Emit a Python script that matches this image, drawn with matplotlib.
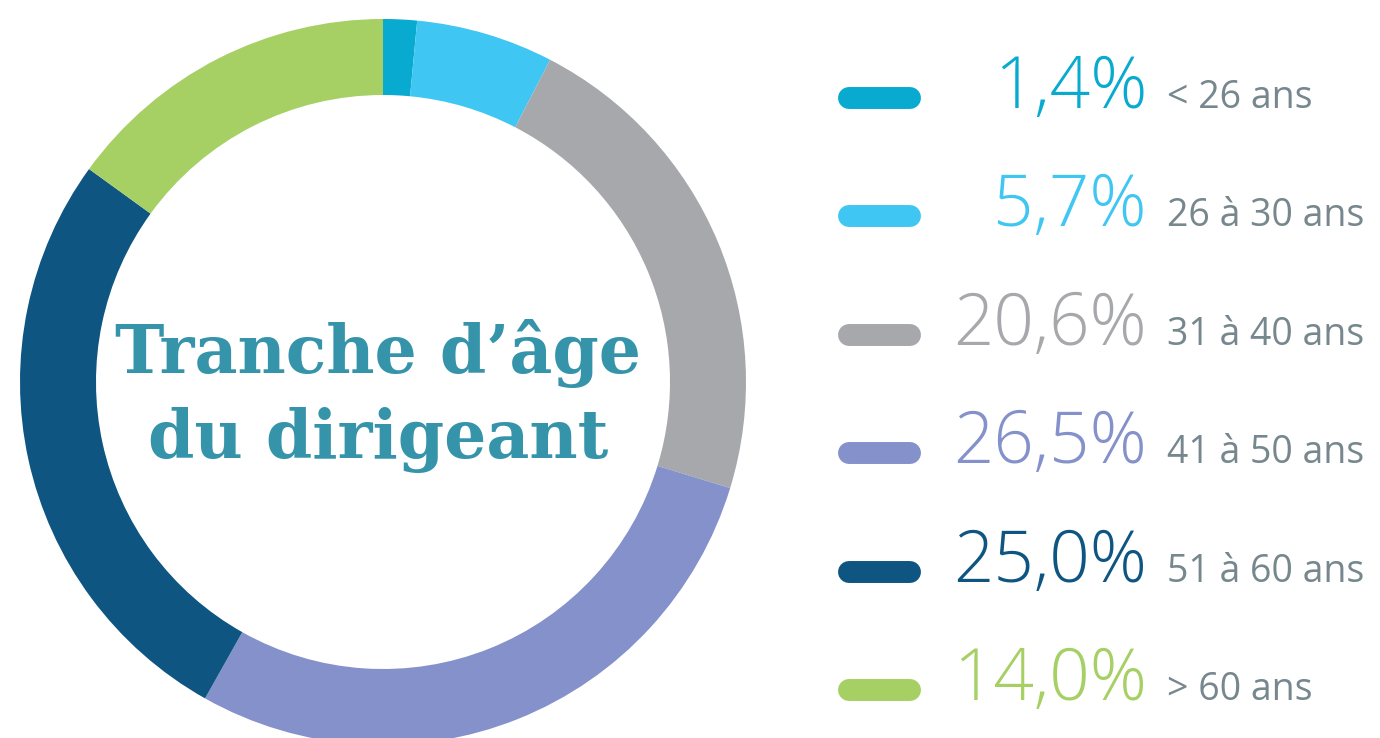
import matplotlib
matplotlib.use("Agg")
import matplotlib.pyplot as plt

categories = ["< 26 ans", "26 à 30 ans", "31 à 40 ans", "41 à 50 ans", "51 à 60 ans", "> 60 ans"]
values = [1.4, 5.7, 20.6, 26.5, 25.0, 14.0]
pct_labels = ["1,4%", "5,7%", "20,6%", "26,5%", "25,0%", "14,0%"]
colors = ["#08aad0", "#40c6f2", "#a7a8ab", "#8491ca", "#0e5582", "#a6cf64"]
title_lines = ["Tranche d\u2019âge", "du dirigeant"]

W, H = 1380, 738
fig = plt.figure(figsize=(W / 100, H / 100), dpi=100)
ax = fig.add_axes([0, 0, 1, 1])

def Y(y):
    return H - y

ax.pie(values, colors=colors, startangle=90, counterclock=False,
       radius=363, center=(383, Y(382)),
       wedgeprops=dict(width=76, edgecolor="none", linewidth=0))

ax.set_xlim(0, W)
ax.set_ylim(0, H)
ax.set_aspect("equal")
ax.axis("off")

renderer = fig.canvas.get_renderer()

def fit_width(t, target):
    bb = t.get_window_extent(renderer=renderer)
    t.set_fontsize(t.get_fontsize() * target / bb.width)

# center title
t1 = ax.text(378, Y(373), title_lines[0], ha="center", va="baseline",
             fontsize=50, fontweight="bold",
             color="#3594a9", family="DejaVu Serif")
fit_width(t1, 528)
t2 = ax.text(378, Y(458), title_lines[1], ha="center", va="baseline",
             fontsize=t1.get_fontsize(), fontweight="bold",
             color="#3594a9", family="DejaVu Serif")

# legend
for i, (cat, lab, col) in enumerate(zip(categories, pct_labels, colors)):
    yc = 98 + 118.4 * i
    yb = yc + 10
    ax.plot([849, 910], [Y(yc), Y(yc)], color=col, lw=15.8,
            solid_capstyle="round")
    ax.text(1147, Y(yb), lab, ha="right", va="baseline", fontsize=51,
            fontweight="light", color=col, family="Open Sans")
    ax.text(1167, Y(yb), cat, ha="left", va="baseline", fontsize=27,
            color="#76878d", family="Open Sans")

fig.savefig("out.png", dpi=100)
